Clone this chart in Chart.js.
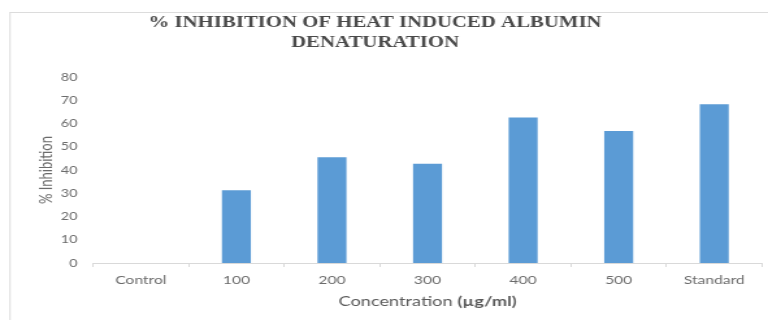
<!DOCTYPE html>
<html>
<head>
<meta charset="utf-8">
<script src="https://cdn.jsdelivr.net/npm/chart.js@4"></script>
<style>
  html, body { margin: 0; padding: 0; background: #fff; overflow: hidden; }
  #wrap { width: 768px; height: 320px; overflow: hidden; }
  /* the figure is drawn narrow and widened to the full 768px frame */
  canvas { display: block; transform-origin: 0 0; transform: scaleX(1.2995); }
</style>
</head>
<body>
<div id="wrap"><canvas id="c" width="591" height="320"></canvas></div>
<script>
const categories = ['Control', '100', '200', '300', '400', '500', 'Standard'];
const inhibition = [0, 31.3, 45.5, 42.7, 62.6, 56.8, 68.3];
const yMin = 0;
const yMax = 80;
const yStep = 10;
const titleLines = ['% INHIBITION OF HEAT INDUCED ALBUMIN', 'DENATURATION'];
const xTitleMain = 'Concentration ';
const xTitleUnit = '(\u00b5g/ml)';
const yTitle = '% Inhibition';

const BAR_BLUE = '#5B9BD5';
const LABEL_GREY = '#6b6b6b';
const AXIS_GREY = '#d9d9d9';

const frameAndTitles = {
  id: 'frameAndTitles',
  beforeDraw(chart) {
    const ctx = chart.ctx;
    ctx.save();
    ctx.fillStyle = '#ffffff';
    ctx.fillRect(0, 0, chart.width, chart.height);
    ctx.strokeStyle = '#dcdcdc';
    ctx.lineWidth = 1;
    ctx.beginPath();
    ctx.moveTo(7.7, 12.5);
    ctx.lineTo(chart.width, 12.5);
    ctx.moveTo(7.7, 12);
    ctx.lineTo(7.7, chart.height);
    ctx.stroke();
    ctx.restore();
  },
  afterDraw(chart) {
    const ctx = chart.ctx;
    const area = chart.chartArea;
    ctx.save();
    // chart heading
    ctx.fillStyle = '#4a4a4a';
    ctx.font = 'bold 16px "Liberation Serif", "Times New Roman", serif';
    ctx.textAlign = 'center';
    ctx.textBaseline = 'middle';
    ctx.fillText(titleLines[0], 288.6, 23);
    ctx.fillText(titleLines[1], 288.6, 43);
    // category axis title: plain word, bold unit
    const regular = '14px Lato, "Open Sans", sans-serif';
    const bold = 'bold 14px Lato, "Open Sans", sans-serif';
    ctx.font = regular;
    const w1 = ctx.measureText(xTitleMain).width;
    ctx.font = bold;
    const w2 = ctx.measureText(xTitleUnit).width;
    const cx = (area.left + area.right) / 2;
    const startX = cx - (w1 + w2) / 2;
    ctx.textAlign = 'left';
    ctx.fillStyle = '#5a5a5a';
    ctx.font = regular;
    ctx.fillText(xTitleMain, startX, 301);
    ctx.font = bold;
    ctx.fillText(xTitleUnit, startX + w1, 301);
    ctx.restore();
  }
};

new Chart(document.getElementById('c'), {
  type: 'bar',
  data: {
    labels: categories,
    datasets: [{
      data: inhibition,
      backgroundColor: BAR_BLUE,
      borderWidth: 0,
      categoryPercentage: 1.0,
      barPercentage: 0.303
    }]
  },
  options: {
    responsive: false,
    animation: false,
    devicePixelRatio: 1,
    layout: { padding: { top: 77, right: 4.6, left: 0, bottom: 0 } },
    plugins: {
      legend: { display: false },
      title: { display: false },
      tooltip: { enabled: false }
    },
    scales: {
      x: {
        afterFit(scale) { scale.height = 57; },
        grid: {
          display: true,
          drawOnChartArea: false,
          drawTicks: true,
          tickLength: 4,
          color: AXIS_GREY,
          offset: true
        },
        border: { display: true, color: AXIS_GREY, width: 1 },
        ticks: {
          color: LABEL_GREY,
          font: { family: 'Lato, "Open Sans", sans-serif', size: 12 },
          padding: 6,
          maxRotation: 0
        }
      },
      y: {
        min: yMin,
        max: yMax,
        afterFit(scale) { scale.width = 71.6; },
        grid: { display: false },
        border: { display: false },
        ticks: {
          stepSize: yStep,
          color: LABEL_GREY,
          font: { family: 'Lato, "Open Sans", sans-serif', size: 11 },
          padding: 4
        },
        title: {
          display: true,
          text: yTitle,
          color: LABEL_GREY,
          font: { family: 'Lato, "Open Sans", sans-serif', size: 13 },
          padding: { top: 28, bottom: 0 }
        }
      }
    }
  },
  plugins: [frameAndTitles]
});
</script>
</body>
</html>
